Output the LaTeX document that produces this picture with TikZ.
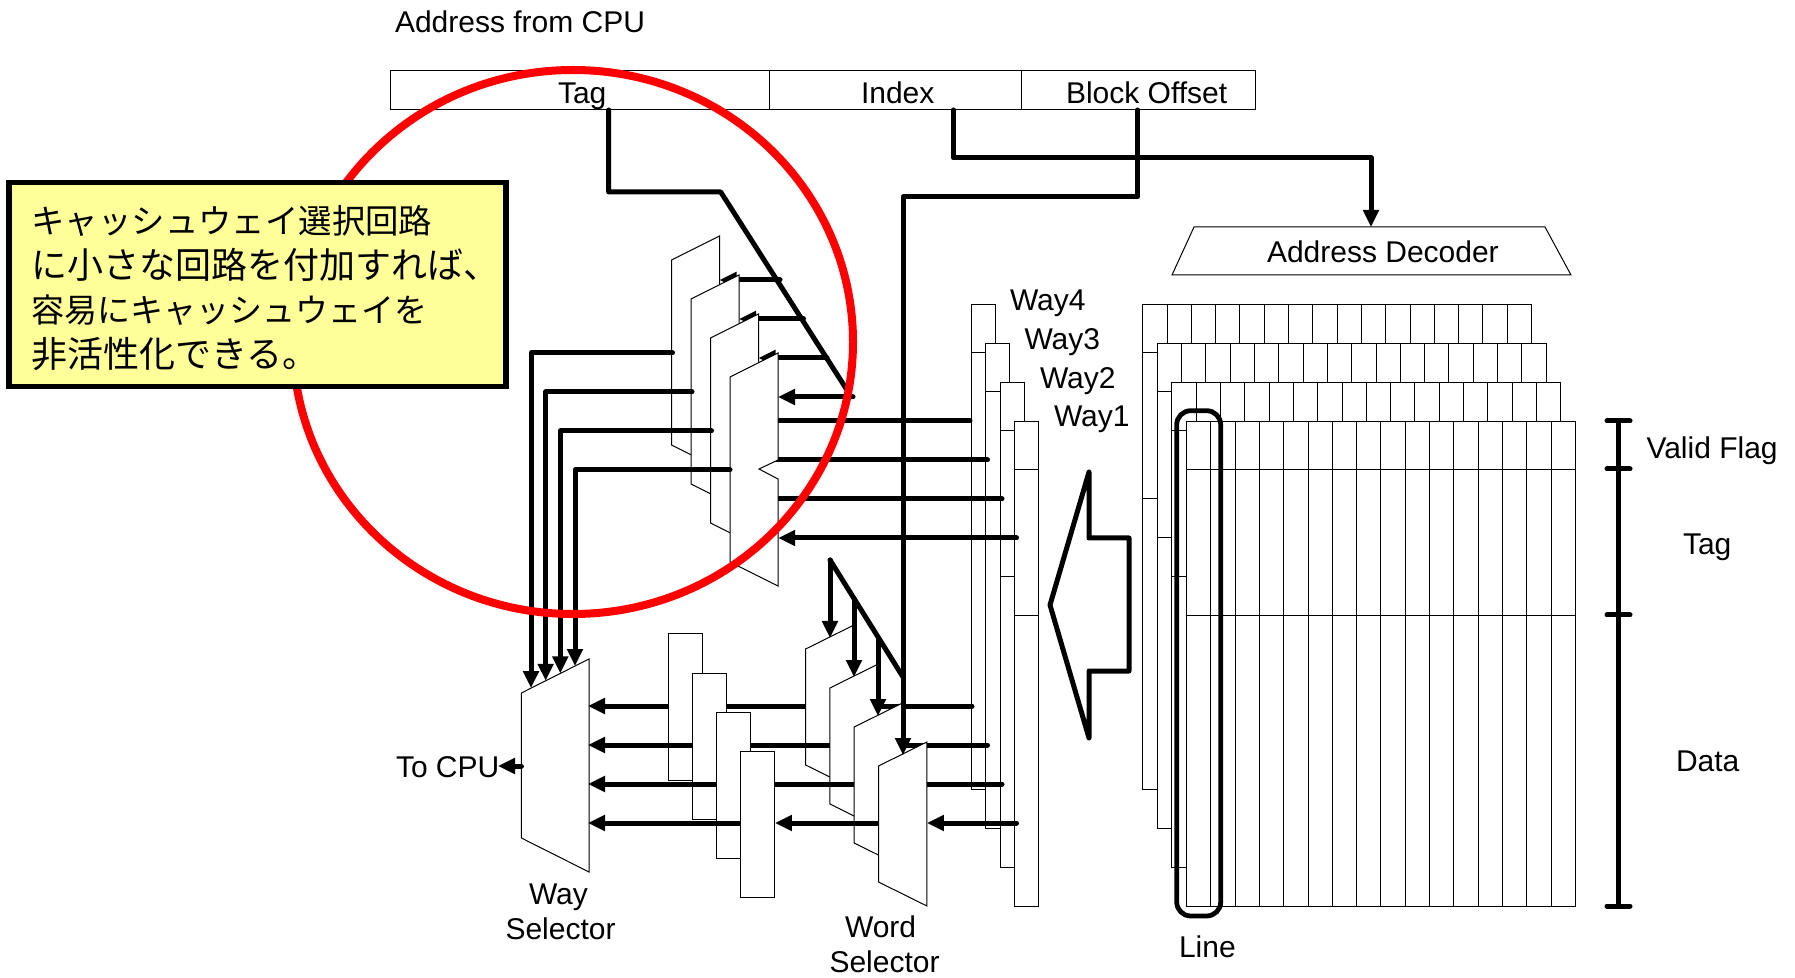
\documentclass[tikz,border=0pt]{standalone}
\usepackage{fontspec}
\setmainfont{Liberation Sans}
\newfontfamily\cjkjp{Noto Sans CJK JP}
\usetikzlibrary{arrows.meta}
\definecolor{noteyellow}{HTML}{FFFF99}
\tikzset{
  thinl/.style={draw=black,line width=0.5pt,fill=white,line join=miter},
  wire/.style={draw=black,line width=2.5pt,line cap=round,line join=round},
  awire/.style={wire,-{Triangle[length=8.5pt,width=7.6pt]}},
  lbl/.style={anchor=base west,inner sep=0pt,outer sep=0pt,font=\fontsize{15}{18}\selectfont},
  field/.style={thinl,anchor=north west,inner sep=0pt,outer sep=0pt,minimum height=19.5pt},
}
\begin{document}
\begin{tikzpicture}[x=0.5pt,y=-0.5pt]
\useasboundingbox (0,0) rectangle (1795,978);
% address register
\node[field,minimum width=189.5pt] (ftag) at (390,71) {};
\node[field,minimum width=126pt] (findex) at (769,71) {};
\node[field,minimum width=117pt] (foffset) at (1021,71) {};
\coordinate (tagtap) at (608.7,110);
\coordinate (indextap) at (953.5,110);
\coordinate (offsettap) at (1137.6,110);
% decoder
\draw[thinl] (1194,227) -- (1545,227) -- (1571,275) -- (1172,275) -- cycle;
\coordinate (decin) at (1371,227);
% way selector
\draw[thinl] (521.4,693) -- (589,659) -- (589,872) -- (521.4,838) -- cycle;
\coordinate (wsout) at (521.4,766);
\coordinate (cpuend) at (498,766);
\draw[awire] (wsout) -- (cpuend);
% painter's order, way 4 to way 1
\foreach \i in {0,1,2,3}{
  \pgfmathsetmacro{\cx}{971+14.5*\i}
  \pgfmathsetmacro{\cxr}{\cx+24.3}
  \pgfmathsetmacro{\ct}{304.5+39*\i}
  \pgfmathsetmacro{\ca}{\ct+48}
  \pgfmathsetmacro{\cb}{\ct+194}
  \pgfmathsetmacro{\cc}{\ct+485}
  % column
  \draw[thinl] (\cx,\ct) rectangle (\cxr,\cc);
  \draw[thinl] (\cx,\ca) -- (\cxr,\ca) (\cx,\cb) -- (\cxr,\cb);
  % array
  \pgfmathsetmacro{\gx}{1142.7+14.6*\i}
  \pgfmathsetmacro{\gxr}{\gx+16*24.3}
  \draw[thinl] (\gx,\ct) rectangle (\gxr,\cc);
  \draw[thinl] (\gx,\ca) -- (\gxr,\ca) (\gx,\cb) -- (\gxr,\cb);
  \foreach \k in {1,...,15}{
    \pgfmathsetmacro{\vx}{\gx+24.3*\k}
    \draw[thinl] (\vx,\ct) -- (\vx,\cc);
  }
  % tag wire into the comparator
  \pgfmathsetmacro{\ty}{421+39*\i}
  \pgfmathsetmacro{\tl}{720+19.4*\i}
  \pgfmathsetmacro{\tr}{\cx+(\i==0?-1:2)}
  \draw[awire] (\tr,\ty) -- (\tl,\ty);
  % data wires
  \pgfmathsetmacro{\dy}{706+39*\i}
  \pgfmathsetmacro{\da}{\cx+(\i==0?1:2)}
  \pgfmathsetmacro{\db}{854+24.3*\i}
  \pgfmathsetmacro{\dc}{807+24.3*\i}
  \pgfmathsetmacro{\dd}{702+24.3*\i}
  \pgfmathsetmacro{\de}{670+24.3*\i}
  \draw[awire] (\da,\dy) -- (\db,\dy);
  \draw[awire] (\dc,\dy) -- (\dd,\dy);
  \draw[awire] (\de,\dy) -- (588,\dy);
  % comparator
  \pgfmathsetmacro{\ax}{671.5+19.5*\i}
  \pgfmathsetmacro{\ar}{719.5+19.5*\i}
  \pgfmathsetmacro{\an}{700.5+19.5*\i}
  \pgfmathsetmacro{\ya}{236+39*\i}
  \pgfmathsetmacro{\yb}{260+39*\i}
  \pgfmathsetmacro{\yc}{343+39*\i}
  \pgfmathsetmacro{\yd}{352+39*\i}
  \pgfmathsetmacro{\ye}{362+39*\i}
  \pgfmathsetmacro{\yf}{445+39*\i}
  \pgfmathsetmacro{\yg}{469+39*\i}
  \draw[thinl] (\ax,\yb) -- (\ar,\ya) -- (\ar,\yc) -- (\an,\yd) -- (\ar,\ye) -- (\ar,\yg) -- (\ax,\yf) -- cycle;
  % tag bus branch into the comparator, its head mostly hidden by the next one
  \pgfmathsetmacro{\hy}{280+39*\i}
  \pgfmathsetmacro{\hr}{780+23.5*\i}
  \ifnum\i<3 \draw[awire] (\hr,\hy) -- (\ar,\hy); \fi
  % output of the comparator to the way selector
  \pgfmathsetmacro{\ly}{353+39*\i}
  \pgfmathsetmacro{\lx}{531+14.67*\i}
  \pgfmathsetmacro{\lt}{693-(\lx-521.4)*0.503}
  \pgfmathsetmacro{\le}{\ax+(\i==3?0:1)}
  \draw[awire] (\le,\ly) -- (\lx,\ly) -- (\lx,\lt);
  % data box
  \pgfmathsetmacro{\bx}{668+24.3*\i}
  \pgfmathsetmacro{\br}{702+24.3*\i}
  \pgfmathsetmacro{\bt}{634+39*\i}
  \pgfmathsetmacro{\bb}{780+39*\i}
  \draw[thinl] (\bx,\bt) rectangle (\br,\bb);
  % word selector
  \pgfmathsetmacro{\wx}{805.6+24.3*\i}
  \pgfmathsetmacro{\wr}{854+24.3*\i}
  \pgfmathsetmacro{\wa}{625+39*\i}
  \pgfmathsetmacro{\wb}{649+39*\i}
  \pgfmathsetmacro{\wc}{765+39*\i}
  \pgfmathsetmacro{\wd}{789+39*\i}
  \draw[thinl] (\wx,\wb) -- (\wr,\wa) -- (\wr,\wd) -- (\wx,\wc) -- cycle;
}
% tag comparison bus
\coordinate (tagc1) at (608.7,192);
\coordinate (tagc2) at (720.7,192);
\coordinate (tagc3) at (847,390);
\draw[wire] (tagtap) -- (tagc1) -- (tagc2) -- (tagc3);
\draw[awire] (853,397) -- (778,397);
% word select fan
\coordinate (fan0) at (830,560);
\coordinate (fan1) at (854,599);
\coordinate (fan2) at (878,638);
\coordinate (fan3) at (903,677);
\draw[wire] (fan0) -- (fan3);
\draw[awire] (fan0) -- (830,638);
\draw[awire] (fan1) -- (854,677);
\draw[awire] (fan2) -- (878,716);
% offset line
\draw[awire] (offsettap) -- (1137.6,197) -- (903,197) -- (903,755);
% index line
\draw[awire] (indextap) -- (953.5,158) -- (1371,158) -- (decin);
% fat arrow
\draw[line width=2.5pt,line join=round,line cap=round] (1089,472) -- (1050,605) -- (1089,738) -- (1089,671) -- (1129,671) -- (1129,538) -- (1089,538) -- cycle;
% line marker
\draw[line width=2.4pt,rounded corners=7pt] (1176.7,410.7) rectangle (1220.7,916);
% brackets
\coordinate (brt) at (1618.7,421);
\coordinate (brb) at (1618.7,906);
\draw[wire] (brt) -- (brb);
\foreach \q in {421,469,615,906}{\draw[wire] (1607,\q) -- (1630,\q);}
% red ring
\draw[red,line width=4pt] (573,342) ellipse [x radius=280,y radius=272];
% note
\node[draw=black,line width=2.6pt,fill=noteyellow,anchor=north west,inner sep=0pt,outer sep=0pt,minimum width=248.5pt,minimum height=102pt] (notebox) at (9,182.5) {};
\node[anchor=west,inner sep=0pt,align=left,font=\cjkjp\fontsize{16.7}{22.25}\selectfont] (notetext) at (31,288) {キャッシュウェイ選択回路\\{\fontsize{18}{22.25}\selectfont に小さな回路を付加すれば、}\\{\fontsize{16.5}{22.25}\selectfont 容易にキャッシュウェイを}\\{\fontsize{18}{22.25}\selectfont 非活性化できる。}};
% labels
\node[lbl] (laddr) at (395,33) {Address from CPU};
\node[lbl] (ltag) at (558,103.5) {Tag};
\node[lbl] (lindex) at (861,103.5) {Index};
\node[lbl] (loffset) at (1066,103.5) {Block Offset};
\node[lbl] (ldec) at (1267,263) {Address Decoder};
\node[lbl] (lw4) at (1010,311) {Way4};
\node[lbl] (lw3) at (1024.5,350) {Way3};
\node[lbl] (lw2) at (1040,389) {Way2};
\node[lbl] (lw1) at (1054,427) {Way1};
\begin{scope}
\clip (1640,420) rectangle (1776,480);
\node[lbl] (lvalid) at (1646.5,459) {Valid Flag};
\end{scope}
\node[lbl] (ltag2) at (1683,555) {Tag};
\node[lbl] (ldata) at (1676,771) {Data};
\node[lbl] (lcpu) at (396,777) {To CPU};
\node[lbl] (lway) at (529,904) {Way};
\node[lbl] (lsel1) at (505.5,939) {Selector};
\node[lbl] (lword) at (845,937) {Word};
\node[lbl] (lsel2) at (829.5,972) {Selector};
\node[lbl] (lline) at (1179,957) {Line};
\end{tikzpicture}
\end{document}
